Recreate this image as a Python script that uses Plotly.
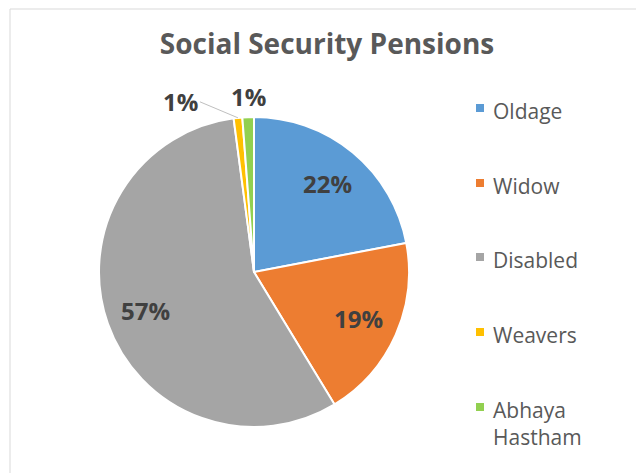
import math
import plotly.graph_objects as go

categories = ["Oldage", "Widow", "Disabled", "Weavers", "Abhaya Hastham"]
values = [22.0, 19.3, 56.6, 0.9, 1.2]
colors = ["#5B9BD5", "#ED7D31", "#A5A5A5", "#FFC000", "#92D050"]
legend_labels = ["Oldage", "Widow", "Disabled", "Weavers", "Abhaya<br>Hastham"]
title_text = "Social Security Pensions"

OFF = 8  # browser body margin
W, H = 644 - OFF, 473 - OFF
cx, cy, R = 254 - OFF, 272 - OFF, 155  # pixels (layout)

dom_x = [(cx - R) / W, (cx + R) / W]
dom_y = [(H - cy - R) / H, (H - cy + R) / H]

total = sum(values)
pct = [round(v / total * 100) for v in values]

fig = go.Figure()
fig.add_trace(go.Pie(
    labels=categories, values=values, sort=False, direction="clockwise",
    rotation=0, marker=dict(colors=colors, line=dict(color="white", width=2)),
    textinfo="none",
    domain=dict(x=dom_x, y=dom_y), showlegend=False, hoverinfo="label+percent",
))

label_font = dict(family="Open Sans", size=24, color="#404040")
annotations = []
cum = 0
for i, v in enumerate(values):
    frac = v / total
    mid = (cum + frac / 2) * 2 * math.pi
    cum += frac
    if frac >= 0.05:
        r = 0.74 * R
        lx = cx + r * math.sin(mid)
        ly = cy - r * math.cos(mid)
        annotations.append(dict(x=lx / W, y=(H - ly) / H, xref="paper", yref="paper",
                                text=f"<b>{pct[i]}%</b>", showarrow=False,
                                xanchor="center", yanchor="middle", font=label_font))
        continue
    px = cx + R * math.sin(mid)
    py = cy - R * math.cos(mid)
    if categories[i] == "Weavers":
        annotations.append(dict(x=px / W, y=(H - py) / H, xref="paper", yref="paper",
                                text=f"<b>{pct[i]}%</b>", showarrow=True, arrowhead=0,
                                arrowwidth=1, arrowcolor="#BFBFBF", ax=-38, ay=-16,
                                xanchor="right", font=label_font))
    else:
        annotations.append(dict(x=px / W, y=(H - py) / H + 0.005, xref="paper", yref="paper",
                                text=f"<b>{pct[i]}%</b>", showarrow=False,
                                yanchor="bottom", xanchor="center", font=label_font))

shapes = []
leg_y = [110, 185, 259, 334, 409]
for lab, col, ly in zip(legend_labels, colors, leg_y):
    ly = ly - OFF
    shapes.append(dict(type="rect", xref="paper", yref="paper",
                       x0=(476 - OFF) / W, x1=(484 - OFF) / W,
                       y0=(H - ly - 2) / H, y1=(H - ly + 6) / H,
                       fillcolor=col, line=dict(width=0)))
    annotations.append(dict(x=(491 - OFF) / W, y=(H - ly + 15) / H, xref="paper", yref="paper",
                            text=lab, showarrow=False, xanchor="left", yanchor="top",
                            align="left",
                            font=dict(family="Open Sans", size=21, color="#595959")))

shapes.append(dict(type="rect", xref="paper", yref="paper", x0=(10 - OFF) / W, x1=(640 - OFF) / W,
                   y0=-0.05, y1=(H - (8 - OFF) - 1) / H, line=dict(color="#D9D9D9", width=1),
                   fillcolor="rgba(0,0,0,0)"))

fig.update_layout(
    width=W, height=H, margin=dict(l=0, r=0, t=0, b=0),
    paper_bgcolor="white", plot_bgcolor="white",
    title=dict(text=f"<b>{title_text}</b>", x=(327 - OFF) / W, xanchor="center",
               y=(H - (44 - OFF)) / H, yanchor="middle",
               font=dict(family="Open Sans", size=28, color="#595959")),
    annotations=annotations, shapes=shapes,
)
fig.write_html("out.html")
